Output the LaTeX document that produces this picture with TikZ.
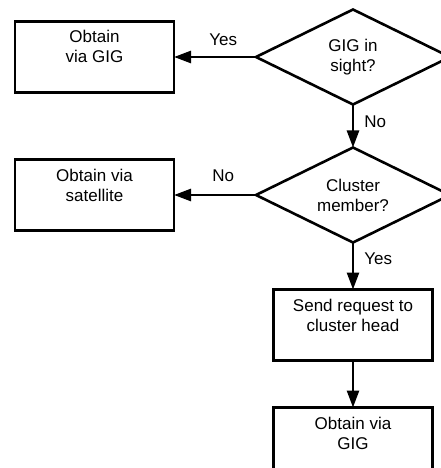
\documentclass[tikz,border=0pt]{standalone}
\usepackage{fontspec}
\setmainfont{Liberation Sans}
\usepackage{tikz}
\usetikzlibrary{positioning,shapes.geometric,arrows.meta}

\begin{document}
\begin{tikzpicture}
		[
			node distance=47pt and 82pt,
			line width=2.6pt,
			font=\fontsize{17}{20}\selectfont,
			>={Triangle[length=17pt,width=12pt]},
			stepbox/.style={draw, rectangle, minimum width=159pt, minimum height=71pt, inner sep=0pt, outer sep=0pt, align=center, text height=41.5pt, text depth=29.5pt},
			decision/.style={draw, diamond, aspect=2, inner sep=0pt, minimum width=194pt, minimum height=95pt, outer sep=0pt, align=center},
			lbl/.style={inner sep=0pt}
		]

		\path[use as bounding box] (0pt,0pt) rectangle (440pt,-468pt);

		\node[decision] (insight) at (353pt,-57pt) {GIG in\\sight?};
		\node[stepbox] (viagig) [left=of insight] {Obtain\\via GIG};
		\node[decision] (member) [below=43pt of insight] {Cluster\\member?};
		\node[stepbox] (satellite) [left=of member] {Obtain via\\satellite};
		\node[stepbox] (request) [below=of member] {Send request to\\cluster head};
		\node[stepbox] (viahead) [below=of request] {Obtain via\\GIG};

		\draw[->] (insight) -- node[lbl, above=10pt, pos=0.4] {Yes} (viagig);
		\draw[->] (insight) -- node[lbl, right=10pt, pos=0.4] {No} (member);
		\draw[->] (member) -- node[lbl, above=12pt, pos=0.4] {No} (satellite);
		\draw[->] (member) -- node[lbl, right=10pt, pos=0.35] {Yes} (request);
		\draw[->] (request) -- (viahead);
	\end{tikzpicture}
\end{document}
